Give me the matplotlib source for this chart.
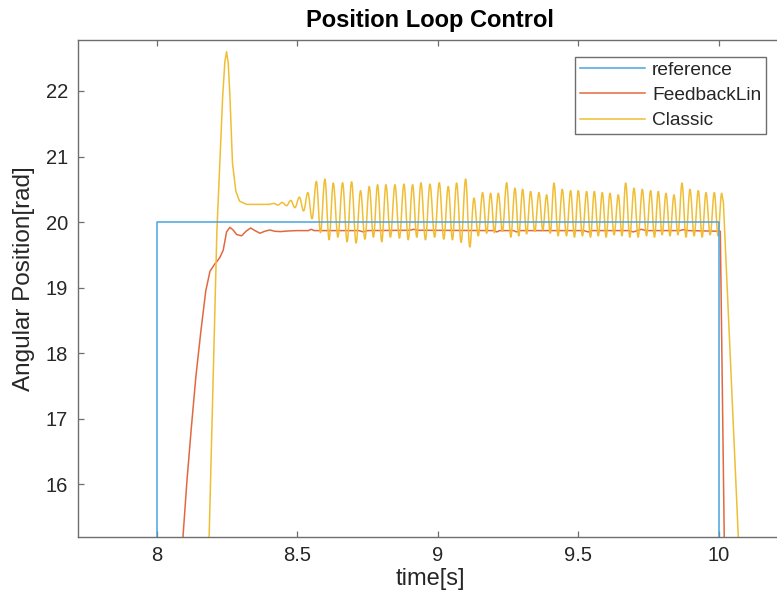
import matplotlib
matplotlib.use("Agg")
import matplotlib.pyplot as plt
from matplotlib.path import Path
from matplotlib.patches import PathPatch
from matplotlib.lines import Line2D

plt.rcParams['font.family'] = ['Liberation Sans', 'DejaVu Sans']

# ---------------- data ----------------
ref_t = [7.70, 8.00, 8.00, 10.00, 10.00, 10.25]
ref_v = [10.0, 10.0, 20.0, 20.0, 10.0, 10.0]

fbl_t = [7.70, 8.085, 8.094, 8.108, 8.123, 8.140, 8.158, 8.175, 8.190, 8.207, 8.215,
         8.225, 8.237, 8.249, 8.2608, 8.272, 8.285, 8.3024, 8.318, 8.3344, 8.350,
         8.3675, 8.385, 8.4031, 8.42, 8.44, 8.47, 8.50, 8.54, 8.55, 8.56, 8.59,
         8.72, 8.735, 8.75, 8.90, 8.915, 8.93, 9.20, 9.21, 9.22, 9.27, 9.28, 9.29,
         9.52, 9.535, 9.55, 9.68, 9.695, 9.71, 9.725, 9.74, 9.86, 9.875, 9.89,
         10.005, 10.019, 10.03]
fbl_v = [10.0, 14.60, 15.20, 16.05, 16.83, 17.65, 18.35, 18.95, 19.25, 19.36, 19.40,
         19.46, 19.57, 19.85, 19.92, 19.88, 19.81, 19.79, 19.86, 19.91, 19.87,
         19.83, 19.86, 19.88, 19.86, 19.855, 19.865, 19.87, 19.87, 19.89, 19.87, 19.87,
         19.87, 19.85, 19.87, 19.875, 19.89, 19.875, 19.87, 19.85, 19.87, 19.87, 19.85, 19.87,
         19.87, 19.85, 19.87, 19.87, 19.85, 19.87, 19.89, 19.87, 19.87, 19.885, 19.87,
         19.86, 15.20, 13.50]

classic_t = [7.70, 8.170, 8.187, 8.2145, 8.225, 8.235, 8.243, 8.249, 8.255, 8.261,
             8.270, 8.282, 8.295, 8.320, 8.400,
             8.417, 8.432, 8.447, 8.462, 8.4775, 8.492, 8.508, 8.523, 8.538, 8.553,
             8.5684, 8.583,
             8.5987, 8.6136, 8.6284, 8.6450, 8.6616, 8.6776, 8.6936, 8.7096, 8.7256,
             8.7410, 8.7565, 8.7713, 8.7861, 8.8009, 8.8157, 8.8318, 8.8478, 8.8638,
             8.8798, 8.8952, 8.9106, 8.9255, 8.9403, 8.9563, 8.9723, 8.9889, 9.0055,
             9.0215, 9.0375, 9.0523, 9.0671, 9.0832, 9.0992, 9.1140, 9.1288, 9.1442,
             9.1596, 9.1739, 9.1881, 9.2018, 9.2154, 9.2302, 9.2450, 9.2599, 9.2747,
             9.2883, 9.3019, 9.3162, 9.3304, 9.3452, 9.3600, 9.3737, 9.3873, 9.4004,
             9.4134, 9.4282, 9.4430, 9.4579, 9.4727, 9.4863, 9.4999, 9.5148, 9.5296,
             9.5433, 9.5569, 9.5711, 9.5853, 9.5990, 9.6126, 9.6274, 9.6422, 9.6553,
             9.6683, 9.6832, 9.6980, 9.7128, 9.7276, 9.7425, 9.7573, 9.7709, 9.7845,
             9.7982, 9.8118, 9.8261, 9.8403, 9.8545, 9.8687, 9.8830, 9.8972, 9.9120,
             9.9268, 9.9405, 9.9541, 9.9690, 9.9838, 9.9969, 10.0099,
             10.016, 10.069, 10.090]
classic_v = [10.0, 12.30, 15.20, 19.86, 20.90, 21.91, 22.45, 22.60, 22.42, 21.91,
             20.90, 20.47, 20.32, 20.27, 20.27,
             20.285, 20.26, 20.30, 20.25, 20.33, 20.22, 20.38, 20.17, 20.45, 20.05,
             20.62, 19.84,
             20.656, 19.73, 20.595, 19.77, 20.60, 19.70, 20.615, 19.68, 20.48,
             19.74, 20.543, 19.77, 20.57, 19.70, 20.57, 19.77, 20.57, 19.755,
             20.58, 19.73, 20.57, 19.77, 20.60, 19.73, 20.58, 19.77, 20.60,
             19.74, 20.543, 19.73, 20.595, 19.69, 20.656, 19.62, 20.366, 19.79,
             20.45, 19.83, 20.44, 19.84, 20.44, 19.857, 20.60, 19.77, 20.517,
             19.79, 20.50, 19.82, 20.467, 19.857, 20.45, 19.88, 20.416, 19.83,
             20.595, 19.79, 20.50, 19.79, 20.48, 19.77, 20.48, 19.79, 20.467,
             19.77, 20.467, 19.79, 20.45, 19.77, 20.44, 19.805, 20.416, 19.79,
             20.595, 19.77, 20.517, 19.77, 20.50, 19.79, 20.48, 19.77, 20.467,
             19.805, 20.44, 19.79, 20.416, 19.805, 20.595, 19.77, 20.50, 19.79,
             20.48, 19.77, 20.45, 19.805, 20.45, 19.79, 20.44,
             20.30, 15.20, 13.20]

series_labels = ["reference", "FeedbackLin", "Classic"]
xticks = [8, 8.5, 9, 9.5, 10]
xtick_labels = ["8", "8.5", "9", "9.5", "10"]
yticks = [16, 17, 18, 19, 20, 21, 22]


def smooth_path(t, v):
    """Path through the samples; between two consecutive extrema the
    segment is drawn as a cubic Bezier with flat tangents (sine-like lobe)."""
    n = len(t)
    ext = [False] * n
    for i in range(1, n - 1):
        ext[i] = (v[i] - v[i - 1]) * (v[i + 1] - v[i]) < 0
    verts = [(t[0], v[0])]
    codes = [Path.MOVETO]
    k = 0.3642
    for i in range(1, n):
        if ext[i - 1] and ext[i]:
            dx = t[i] - t[i - 1]
            verts += [(t[i - 1] + k * dx, v[i - 1]), (t[i] - k * dx, v[i]), (t[i], v[i])]
            codes += [Path.CURVE4] * 3
        else:
            verts.append((t[i], v[i]))
            codes.append(Path.LINETO)
    return Path(verts, codes)


# ---------------- figure ----------------
fig = plt.figure(figsize=(7.77, 5.98), dpi=100)
ax = fig.add_axes([77.7 / 777, (598 - 536.7) / 598, (783 - 77.7) / 777, (536.7 - 40) / 598])

c_ref = '#4AA3DF'
c_fbl = '#E2693F'
c_cls = '#F0BE35'
lw = 1.1

ax.plot(ref_t, ref_v, color=c_ref, lw=lw)
ax.add_patch(PathPatch(smooth_path(fbl_t, fbl_v), fill=False, edgecolor=c_fbl, lw=lw,
                       joinstyle='round'))
ax.add_patch(PathPatch(smooth_path(classic_t, classic_v), fill=False, edgecolor=c_cls, lw=lw,
                       joinstyle='round'))

ax.set_xlim(7.7195, 10.228)
ax.set_ylim(15.2, 22.778)
ax.set_xticks(xticks)
ax.set_xticklabels(xtick_labels)
ax.set_yticks(yticks)

for s in ax.spines.values():
    s.set_color('#6e6e6e')
    s.set_linewidth(1.0)

ax.tick_params(direction='in', top=True, right=True, length=4.5, width=0.9,
               color='#6e6e6e', labelsize=14.5, labelcolor='#262626')
ax.tick_params(axis='x', pad=7)
ax.tick_params(axis='y', pad=7)

ax.set_xlabel('time[s]', fontsize=17, color='#262626', labelpad=2)
ax.set_ylabel('Angular Position[rad]', fontsize=17.5, color='#262626')
ax.yaxis.set_label_coords(-0.0605, 0.52)
ax.set_title('Position Loop Control', fontsize=17, fontweight='bold', pad=9)

handles = [Line2D([], [], color=c, lw=lw) for c in (c_ref, c_fbl, c_cls)]
leg = ax.legend(handles, series_labels, loc='upper right', bbox_to_anchor=(0.976, 0.966),
                borderaxespad=0, fontsize=13.8, fancybox=False, framealpha=1,
                edgecolor='#6e6e6e', handlelength=3.4, handletextpad=0.35,
                labelspacing=0.4, borderpad=0.25)
leg.get_frame().set_linewidth(1.0)
for t in leg.get_texts():
    t.set_color('#262626')

fig.savefig('out.png', dpi=100)
